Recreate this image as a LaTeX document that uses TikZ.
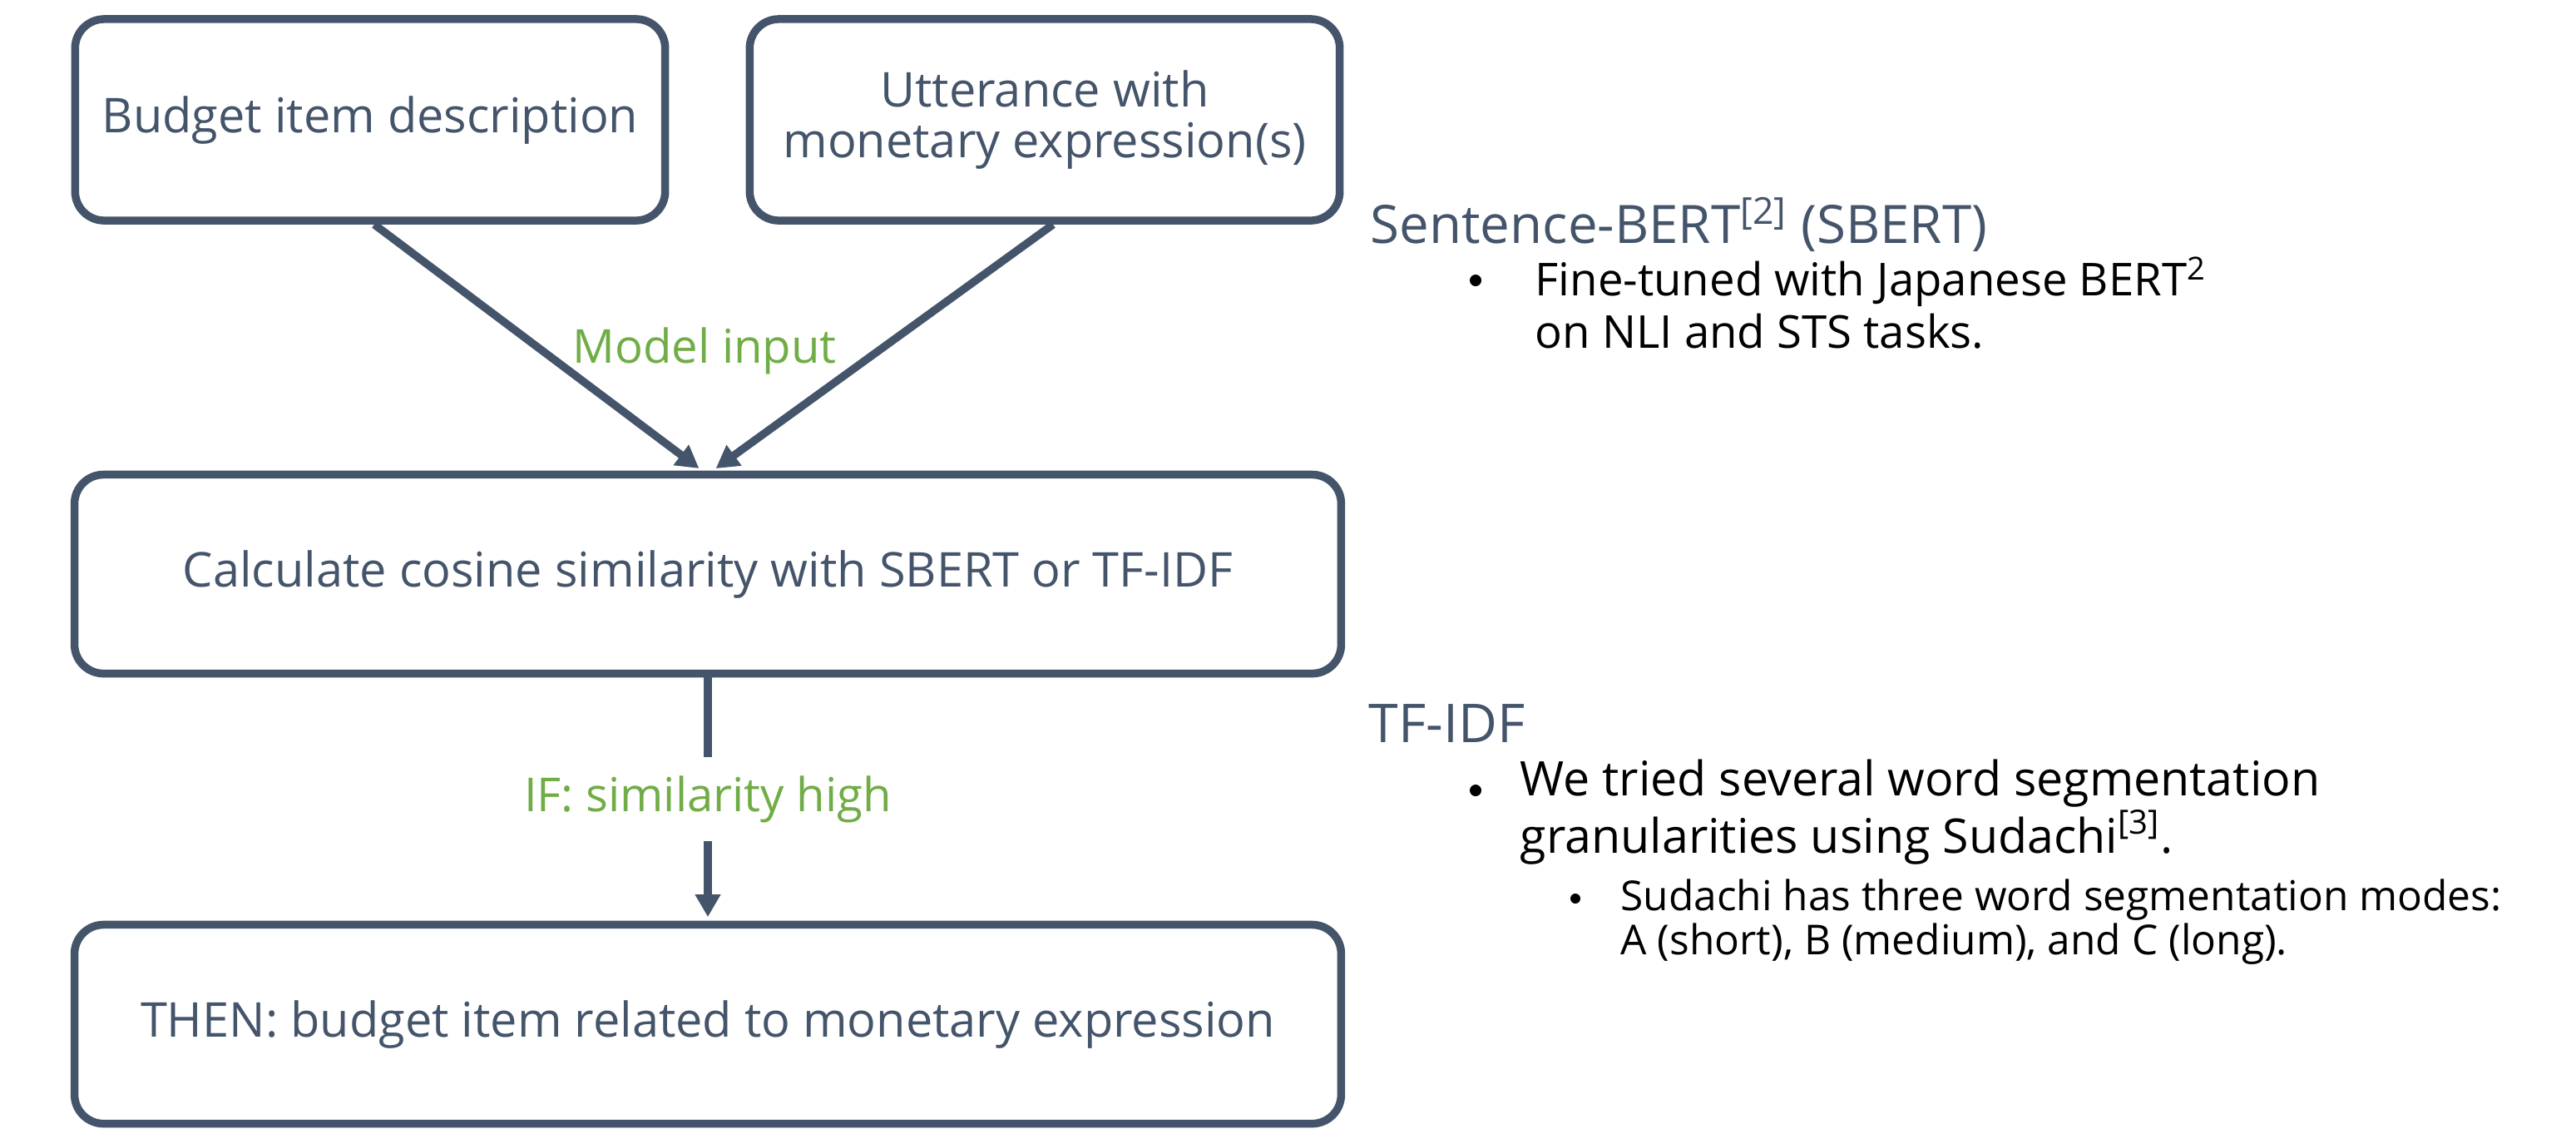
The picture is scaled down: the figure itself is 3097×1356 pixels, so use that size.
\documentclass[tikz,border=0pt]{standalone}
\usepackage{fontspec}
\setmainfont{Open Sans}
\usetikzlibrary{arrows.meta, positioning, calc}
\definecolor{slate}{RGB}{68, 84, 106}
\definecolor{leafgreen}{RGB}{112, 173, 71}

\begin{document}
\begin{tikzpicture}[x=0.01cm, y=-0.01cm,
  flowbox/.style={draw=slate, line width=0.095cm, rounded corners=0.35cm, minimum width=7.09cm, minimum height=2.42cm,
    align=center, text=slate, inner sep=0pt, font=\fontsize{16.4}{17.6}\selectfont},
  widebox/.style={flowbox, minimum width=15.22cm, minimum height=2.39cm},
  link/.style={draw=slate, line width=0.095cm, shorten >=0.045cm, -{Triangle[length=0.27cm, width=0.29cm]}},
  cond/.style={text=leafgreen, font=\fontsize{16}{18}\selectfont},
  head/.style={anchor=base west, inner sep=0pt, text=slate, font=\fontsize{18.1}{20}\selectfont},
  item/.style={anchor=base west, inner sep=0pt, align=left, font=\fontsize{15.5}{17.9}\selectfont},
  dot/.style={circle, fill=black, inner sep=0pt, minimum size=0.14cm}]
  \useasboundingbox (0,0) rectangle (3097,1356);

  % input boxes
  \node[flowbox] (budget) at (445, 144) {Budget item description};
  \node[flowbox] (utter) at (1256, 144) {Utterance with\\monetary expression(s)};

  % similarity step and result
  \node[widebox] (calc) at (851, 690) {Calculate cosine similarity with SBERT or TF-IDF};
  \node[widebox] (then) at (851, 1231) {THEN: budget item related to monetary expression};

  \draw[link] ([xshift=0.05cm]budget.south) -- ([xshift=-0.07cm]calc.north);
  \draw[link] ([xshift=0.1cm]utter.south) -- ([xshift=0.06cm]calc.north);
  \node[cond, anchor=base] (minput) at (847, 436) {Model input};
  \draw[link] (calc.south) -- node[cond, fill=white, inner xsep=0pt, inner ysep=0.22cm] (ifhigh) {IF: similarity high} (then.north);

  % notes on the right (base = last line)
  \node[head] (sbert) at (1647, 292) {Sentence-BERT\textsuperscript{[2]} (SBERT)};
  \node[dot] (dota) at (1774, 337) {};
  \node[item] (finetune) at (1845, 418) {Fine-tuned with Japanese BERT\textsuperscript{2}\\on NLI and STS tasks.};

  \node[head, font=\fontsize{18.3}{22}\selectfont] (tfidf) at (1645, 892) {TF-IDF};
  \node[dot] (dotb) at (1774, 950) {};
  \node[item, font=\fontsize{16.3}{16.2}\selectfont] (segment) at (1827, 1025) {We tried several word segmentation\\granularities using Sudachi\textsuperscript{[3]}.};
  \node[dot, minimum size=0.12cm] (dotc) at (1894, 1080) {};
  \node[item, font=\fontsize{14.1}{14.8}\selectfont] (modes) at (1948, 1147) {Sudachi has three word segmentation modes:\\A (short), B (medium), and C (long).};
\end{tikzpicture}
\end{document}
